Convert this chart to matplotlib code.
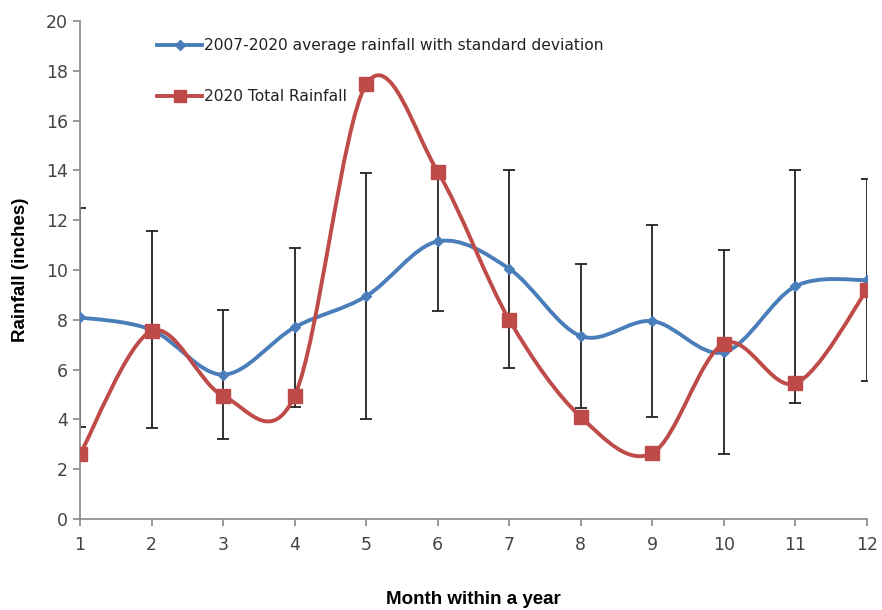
import numpy as np
import matplotlib.pyplot as plt
from matplotlib.path import Path
from matplotlib.patches import PathPatch
from matplotlib.lines import Line2D

months = [1, 2, 3, 4, 5, 6, 7, 8, 9, 10, 11, 12]
avg_rain = [8.1, 7.6, 5.8, 7.7, 8.95, 11.15, 10.05, 7.35, 7.95, 6.7, 9.35, 9.6]
std_rain = [4.4, 3.95, 2.6, 3.2, 4.95, 2.8, 3.97, 2.9, 3.87, 4.1, 4.67, 4.05]
rain_2020 = [2.6, 7.55, 4.95, 4.95, 17.45, 13.95, 8.0, 4.1, 2.65, 7.05, 5.45, 9.2]

blue = "#4A7EBB"
red = "#BE4B48"


def smooth_path(x, y):
    # cubic bezier segments through every point (catmull-rom style, like excel "smoothed line")
    pts = np.column_stack([x, y]).astype(float)
    n = len(pts)
    verts = [pts[0]]
    codes = [Path.MOVETO]
    for i in range(n - 1):
        p0 = pts[max(i - 1, 0)]
        p1 = pts[i]
        p2 = pts[i + 1]
        p3 = pts[min(i + 2, n - 1)]
        c1 = p1 + (p2 - p0) / 6.0
        c2 = p2 - (p3 - p1) / 6.0
        verts += [c1, c2, p2]
        codes += [Path.CURVE4] * 3
    return Path(verts, codes)


fig = plt.figure(figsize=(8.82, 6.1), dpi=100)
ax = fig.add_axes([0.0907, 0.149, 0.8923, 0.8166])

ax.errorbar(months, avg_rain, yerr=std_rain, fmt="none", ecolor="#222222",
            elinewidth=1.3, capsize=4, capthick=1.3, zorder=2)

ax.add_patch(PathPatch(smooth_path(months, avg_rain), fill=False, edgecolor=blue,
                       lw=2.8, zorder=3))
ax.plot(months, avg_rain, linestyle="none", marker="D", markersize=5.5,
        color=blue, zorder=4)

ax.add_patch(PathPatch(smooth_path(months, rain_2020), fill=False, edgecolor=red,
                       lw=2.8, zorder=5))
ax.plot(months, rain_2020, linestyle="none", marker="s", markersize=10,
        color=red, zorder=6)

ax.set_xlim(1, 12)
ax.set_ylim(0, 20)
ax.set_xticks(months)
ax.set_yticks(range(0, 21, 2))

for s in ["top", "right"]:
    ax.spines[s].set_visible(False)
for s in ["left", "bottom"]:
    ax.spines[s].set_color("#888888")
    ax.spines[s].set_linewidth(1.2)
ax.tick_params(colors="#888888", labelcolor="#444444", labelsize=12.5,
               length=5, width=1.2)
ax.tick_params(axis="x", pad=7)

ax.set_ylabel("Rainfall (inches)", fontweight="bold", fontsize=13.5,
              family="Liberation Sans", labelpad=12)
ax.set_xlabel("Month within a year", fontweight="bold", fontsize=13.5,
              family="Liberation Sans", labelpad=27)

handles = [
    Line2D([], [], color=blue, lw=2.8, marker="D", markersize=5),
    Line2D([], [], color=red, lw=2.8, marker="s", markersize=8),
]
ax.legend(handles, ["2007-2020 average rainfall with standard deviation",
                    "2020 Total Rainfall"],
          loc="upper left", bbox_to_anchor=(0.08, 0.993), frameon=False,
          fontsize=11.2, handlelength=2.9, handletextpad=0.1, labelspacing=2.3,
          labelcolor="#222222")

fig.savefig("out.png", dpi=100)
